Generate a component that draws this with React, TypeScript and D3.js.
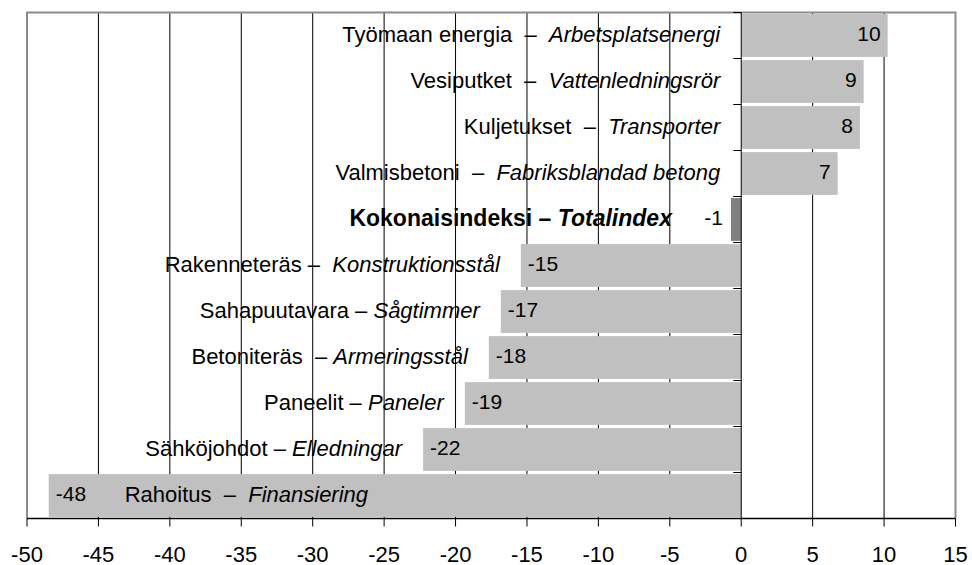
import React from "react";
import * as d3 from "d3";

const W = 972;
const H = 565;
const margin = { top: 12.5, right: 16.5, bottom: 46.5, left: 27 };

// rows, top to bottom
const fiNames = [
  "Työmaan energia",
  "Vesiputket",
  "Kuljetukset",
  "Valmisbetoni",
  "Kokonaisindeksi",
  "Rakenneteräs",
  "Sahapuutavara",
  "Betoniteräs",
  "Paneelit",
  "Sähköjohdot",
  "Rahoitus",
];
const svNames = [
  "Arbetsplatsenergi",
  "Vattenledningsrör",
  "Transporter",
  "Fabriksblandad betong",
  "Totalindex",
  "Konstruktionsstål",
  "Sågtimmer",
  "Armeringsstål",
  "Paneler",
  "Elledningar",
  "Finansiering",
];
const separators = [
  "  –  ",
  "  –  ",
  "  –  ",
  "  –  ",
  " – ",
  " –  ",
  " – ",
  "  – ",
  " – ",
  " – ",
  "  –  ",
];
const values = [10.25, 8.57, 8.31, 6.75, -0.72, -15.43, -16.83, -17.67, -19.35, -22.27, -48.48];
const valueLabels = ["10", "9", "8", "7", "-1", "-15", "-17", "-18", "-19", "-22", "-48"];
const totalRow = "Kokonaisindeksi";
const xTicks = [-50, -45, -40, -35, -30, -25, -20, -15, -10, -5, 0, 5, 10, 15];

const font = "Arial, 'Liberation Sans', sans-serif";

export default function App() {
  const x = d3.scaleLinear([-50, 15], [margin.left, W - margin.right]);
  const y = d3
    .scaleBand<string>(fiNames, [margin.top, H - margin.bottom])
    .paddingInner(0.07)
    .paddingOuter(0.035);
  const x0 = x(0);
  const bottom = H - margin.bottom;
  const step = y.step();

  return (
    <svg
      width={W}
      height={H}
      style={{ position: "absolute", left: 0, top: 0, background: "#fff" }}
      fontFamily={font}
    >
      {/* gridlines */}
      {xTicks
        .filter((t) => t !== 0 && t !== -50 && t !== 15)
        .map((t) => (
          <line key={"g" + t} x1={x(t)} x2={x(t)} y1={margin.top} y2={bottom} stroke="#000" strokeWidth={1} />
        ))}

      {/* bars */}
      {fiNames.map((name, i) => {
        const v = values[i];
        return (
          <rect
            key={"b" + name}
            x={Math.min(x(v), x0)}
            y={y(name)}
            width={Math.abs(x(v) - x0)}
            height={y.bandwidth()}
            fill={name === totalRow ? "#808080" : "#c0c0c0"}
          />
        );
      })}

      {/* frame */}
      <path
        d={`M${margin.left},${bottom}V${margin.top}H${W - margin.right}V${bottom}`}
        fill="none"
        stroke="#8c8c8c"
        strokeWidth={2}
      />

      {/* zero axis with category ticks */}
      <line x1={x0} x2={x0} y1={margin.top} y2={bottom} stroke="#000" strokeWidth={1} />
      {d3.range(fiNames.length + 1).map((k) => {
        const yy = margin.top + k * step;
        return <line key={"yt" + k} x1={x0 - 8} x2={x0} y1={yy} y2={yy} stroke="#000" strokeWidth={1} />;
      })}

      {/* bottom axis */}
      <line x1={margin.left} x2={W - margin.right} y1={bottom} y2={bottom} stroke="#000" strokeWidth={1.5} />
      {xTicks.map((t) => (
        <g key={"xt" + t}>
          <line x1={x(t)} x2={x(t)} y1={bottom} y2={bottom + 8} stroke="#000" strokeWidth={1} />
          <text x={x(t)} y={bottom + 43} textAnchor="middle" fontSize={22} fill="#000">
            {t}
          </text>
        </g>
      ))}

      {/* value labels */}
      {fiNames.map((name, i) => {
        const v = values[i];
        const cy = (y(name) ?? 0) + y.bandwidth() / 2;
        const isTotal = name === totalRow;
        const lx = v >= 0 ? x(v) - 7 : isTotal ? x(v) - 8 : x(v) + 7;
        const anchor = v >= 0 || isTotal ? "end" : "start";
        return (
          <text key={"v" + name} x={lx} y={cy} dy="0.25em" textAnchor={anchor} fontSize={21} fill="#000">
            {valueLabels[i]}
          </text>
        );
      })}

      {/* category labels */}
      {fiNames.map((name, i) => {
        const v = values[i];
        const cy = (y(name) ?? 0) + y.bandwidth() / 2;
        const isTotal = name === totalRow;
        const inside = x(v) - margin.left < 120;
        let lx: number;
        let anchor = "end";
        if (inside) {
          lx = x(v) + 76;
          anchor = "start";
        } else if (isTotal) {
          lx = x(v) - 59;
        } else {
          lx = Math.min(x(v), x0) - 21;
        }
        return (
          <text
            key={"c" + name}
            x={lx}
            y={cy}
            dy="0.3em"
            textAnchor={anchor}
            fontSize={isTotal ? 23 : 22}
            fontWeight={isTotal ? "bold" : "normal"}
            fill="#000"
            xmlSpace="preserve"
            style={{ whiteSpace: "pre" }}
          >
            <tspan>{name + separators[i]}</tspan>
            <tspan fontStyle="italic">{svNames[i]}</tspan>
          </text>
        );
      })}
    </svg>
  );
}
